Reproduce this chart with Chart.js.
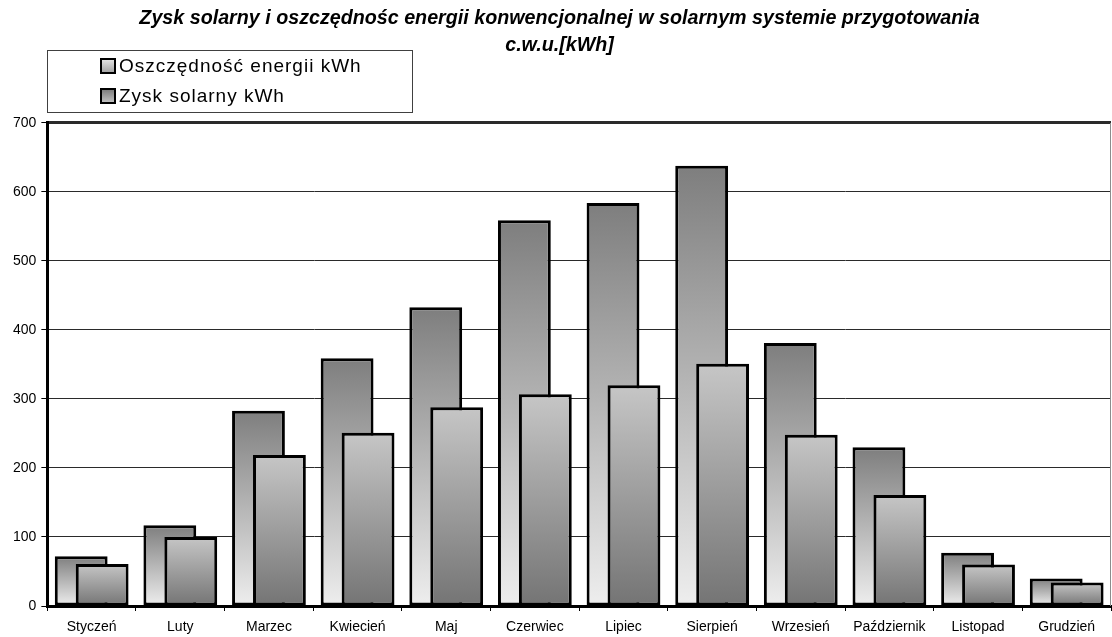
<!DOCTYPE html>
<html lang="pl">
<head>
<meta charset="utf-8">
<title>Zysk solarny i oszczędność energii</title>
<script src="https://cdn.jsdelivr.net/npm/chart.js@4/dist/chart.umd.min.js"></script>
<style>
  html, body { margin: 0; padding: 0; background: #fff; }
  #wrap { width: 1112px; height: 637px; }
</style>
</head>
<body>
<div id="wrap"><canvas id="solarChart" width="1112" height="637"></canvas></div>
<script>
/* Zysk solarny / oszczednosc energii - wykres slupkowy */

var MONTHS = ['Styczeń', 'Luty', 'Marzec', 'Kwiecień', 'Maj', 'Czerwiec', 'Lipiec', 'Sierpień', 'Wrzesień', 'Październik', 'Listopad', 'Grudzień'];
var SOLAR_GAIN = [72, 117, 283, 359, 433, 559, 584, 638, 381, 230, 77, 40];
var ENERGY_SAVING = [61, 100, 219, 251, 288, 307, 320, 351, 248, 161, 60, 34];
var Y_TICKS = [0, 100, 200, 300, 400, 500, 600, 700];
var SERIES_LABELS = ['Zysk solarny kWh', 'Oszczędność energii kWh'];
var CHART_TITLE = ['Zysk solarny i oszczędnośc energii konwencjonalnej w solarnym systemie przygotowania', 'c.w.u.[kWh]'];

var FONT_FAMILY = "'Liberation Sans', Arial, sans-serif";

function barGradient(context, topColor, bottomColor) {
  var chart = context.chart;
  var yScale = chart.scales.y;

  if (!chart.chartArea || !yScale || context.raw === undefined || context.raw === null) {
    return bottomColor;
  }

  var top = yScale.getPixelForValue(context.raw);
  var bottom = yScale.getPixelForValue(0);

  if (!isFinite(top) || !isFinite(bottom) || top === bottom) {
    return bottomColor;
  }

  var g = chart.ctx.createLinearGradient(0, top, 0, bottom);
  g.addColorStop(0, topColor);
  g.addColorStop(1, bottomColor);
  return g;
}

// zysk solarny ma byc pod spodem, oszczednosc na wierzchu
var drawOrderPlugin = {
  id: 'drawOrder',
  beforeDatasetsDraw: function (chart) {
    var area = chart.chartArea;
    var ctx = chart.ctx;

    ctx.save();
    ctx.beginPath();
    ctx.rect(area.left, area.top - 2, area.right - area.left, area.bottom - area.top + 4);
    ctx.clip();
    chart.getDatasetMeta(0).controller.draw();
    chart.getDatasetMeta(1).controller.draw();
    ctx.restore();
    return false;
  }
};

var framePlugin = {
  id: 'frame',
  afterDraw: function (chart) {
    var area = chart.chartArea;
    var ctx = chart.ctx;

    ctx.save();
    ctx.strokeStyle = '#8c8c8c';
    ctx.lineWidth = 1;
    ctx.beginPath();
    ctx.moveTo(area.right - 0.5, area.top);
    ctx.lineTo(area.right - 0.5, area.bottom);
    ctx.stroke();
    ctx.restore();
  }
};

var boxLegendPlugin = {
  id: 'boxLegend',
  afterDraw: function (chart) {
    var ctx = chart.ctx;
    var items = [
      { label: SERIES_LABELS[1], top: '#e6e6e6', bottom: '#a0a0a0' },
      { label: SERIES_LABELS[0], top: '#7a7a7a', bottom: '#c4c4c4' }
    ];
    var i;

    ctx.save();
    ctx.fillStyle = '#fff';
    ctx.fillRect(47, 50, 365, 62);
    ctx.strokeStyle = '#404040';
    ctx.lineWidth = 1;
    ctx.strokeRect(47.5, 50.5, 365, 62);

    ctx.font = '19px ' + FONT_FAMILY;
    ctx.textBaseline = 'middle';
    ctx.textAlign = 'left';
    if ('letterSpacing' in ctx) {
      ctx.letterSpacing = '1px';
    }

    for (i = 0; i < items.length; i += 1) {
      var cy = 66 + i * 30;
      var g = ctx.createLinearGradient(0, cy - 7, 0, cy + 7);
      g.addColorStop(0, items[i].top);
      g.addColorStop(1, items[i].bottom);
      ctx.fillStyle = g;
      ctx.fillRect(101, cy - 7, 14, 14);
      ctx.strokeStyle = '#000';
      ctx.lineWidth = 2;
      ctx.strokeRect(101, cy - 7, 14, 14);
      ctx.fillStyle = '#000';
      ctx.fillText(items[i].label, 119, cy + 1);
    }
    ctx.restore();
  }
};

var chart = new Chart(document.getElementById('solarChart').getContext('2d'), {
  type: 'bar',
  data: {
    labels: MONTHS,
    datasets: [
      {
        label: SERIES_LABELS[0],
        data: SOLAR_GAIN,
        backgroundColor: function (context) {
          return barGradient(context, '#7e7e7e', '#eeeeee');
        },
        borderColor: '#000',
        borderWidth: 3,
        borderSkipped: false,
        categoryPercentage: 0.473,
        barPercentage: 2.52
      },
      {
        label: SERIES_LABELS[1],
        data: ENERGY_SAVING,
        backgroundColor: function (context) {
          return barGradient(context, '#c6c6c6', '#747474');
        },
        borderColor: '#000',
        borderWidth: 3,
        borderSkipped: false,
        categoryPercentage: 0.473,
        barPercentage: 2.52
      }
    ]
  },
  options: {
    responsive: false,
    animation: false,
    devicePixelRatio: 1,
    layout: {
      padding: { left: 8, right: 1, top: 0, bottom: 1 }
    },
    plugins: {
      legend: { display: false },
      tooltip: { enabled: false },
      title: {
        display: true,
        text: CHART_TITLE,
        color: '#000',
        font: { family: FONT_FAMILY, size: 19.7, weight: 'bold', style: 'italic', lineHeight: 1.37 },
        padding: { top: 5, bottom: 64 }
      }
    },
    scales: {
      x: {
        offset: true,
        afterFit: function (axis) {
          axis.height = 30;
        },
        grid: {
          display: true,
          drawOnChartArea: false,
          drawTicks: true,
          tickLength: 5,
          offset: true,
          color: '#000',
          lineWidth: 1
        },
        border: { display: true, color: '#000', width: 3 },
        ticks: {
          color: '#000',
          padding: 8,
          maxRotation: 0,
          autoSkip: false,
          font: { family: FONT_FAMILY, size: 14 }
        }
      },
      y: {
        min: 0,
        max: 700,
        afterBuildTicks: function (axis) {
          axis.ticks = Y_TICKS.map(function (v) { return { value: v }; });
        },
        grid: {
          color: '#2a2a2a',
          lineWidth: function (ctx) {
            return ctx.tick && ctx.tick.value === 700 ? 3 : 1;
          },
          tickLength: 6,
          tickWidth: 1,
          tickColor: '#000'
        },
        border: { display: true, color: '#000', width: 3 },
        ticks: {
          color: '#000',
          padding: 5,
          font: { family: FONT_FAMILY, size: 14 }
        }
      }
    }
  },
  plugins: [drawOrderPlugin, framePlugin, boxLegendPlugin]
});
</script>
</body>
</html>
